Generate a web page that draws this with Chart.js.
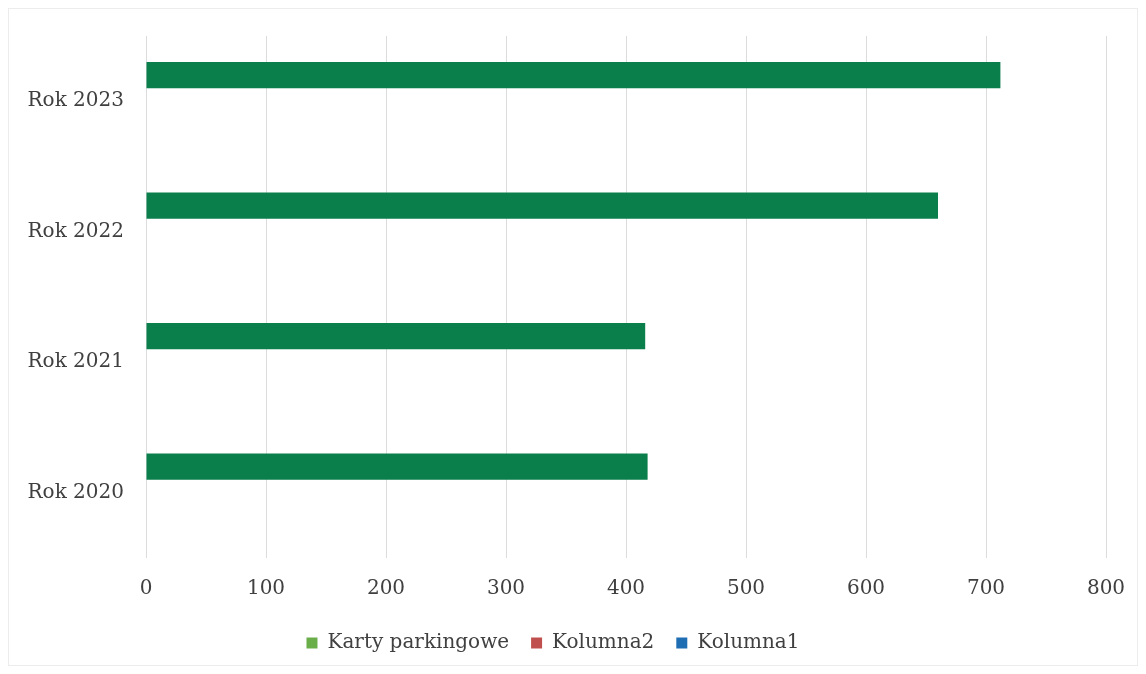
<!DOCTYPE html>
<html>
<head>
<meta charset="utf-8">
<script src="https://cdn.jsdelivr.net/npm/chart.js@4/dist/chart.umd.min.js"></script>
<style>
  html, body { margin: 0; padding: 0; background: #fff; }
  #wrap { position: relative; width: 1146px; height: 674px; }
  #frame { position: absolute; left: 8px; top: 8px; width: 1130px; height: 658px; border: 1px solid #ececec; box-sizing: border-box; }
</style>
</head>
<body>
<div id="wrap">
  <div id="frame"></div>
  <canvas id="chart" width="1146" height="674"></canvas>
</div>
<script>
// kategorie (od góry do dołu) i serie
const categories = ['Rok 2023', 'Rok 2022', 'Rok 2021', 'Rok 2020'];
const kartyParkingowe = [712, 660, 416, 418];
const kolumna2 = [null, null, null, null];
const kolumna1 = [null, null, null, null];
const xTicks = [0, 100, 200, 300, 400, 500, 600, 700, 800];

const fontFamily = '"DejaVu Serif", "Liberation Serif", serif';
const textColor = '#404040';

new Chart(document.getElementById('chart'), {
    type: 'bar',
    data: {
        labels: categories,
        datasets: [
            { label: 'Karty parkingowe', data: kartyParkingowe, backgroundColor: '#0a7e4b', legendColor: '#6aae4a' },
            { label: 'Kolumna2', data: kolumna2, backgroundColor: '#c0504d' },
            { label: 'Kolumna1', data: kolumna1, backgroundColor: '#1f6db3' }
        ]
    },
    options: {
        indexAxis: 'y',
        responsive: false,
        animation: false,
        layout: { padding: { top: 36, right: 40, bottom: 11, left: 0 } },
        datasets: { bar: { categoryPercentage: 0.6, barPercentage: 1.0 } },
        plugins: {
            tooltip: { enabled: false },
            legend: {
                position: 'bottom',
                labels: {
                    font: { family: fontFamily, size: 20 },
                    color: textColor,
                    boxWidth: 11,
                    boxHeight: 11,
                    padding: 22,
                    generateLabels(chart) {
                        return chart.data.datasets.map((ds, i) => ({
                            text: ds.label,
                            fillStyle: ds.legendColor || ds.backgroundColor,
                            strokeStyle: ds.legendColor || ds.backgroundColor,
                            lineWidth: 0,
                            fontColor: textColor,
                            datasetIndex: i
                        }));
                    }
                }
            }
        },
        scales: {
            x: {
                min: 0,
                max: 800,
                afterBuildTicks(scale) { scale.ticks = xTicks.map(v => ({ value: v })); },
                afterFit(scale) { scale.height = 53; },
                border: { display: false },
                grid: { color: '#dcdcdc', lineWidth: 1, drawTicks: false },
                ticks: { font: { family: fontFamily, size: 20 }, color: textColor, padding: 19 }
            },
            y: {
                afterFit(scale) { scale.width = 146; },
                border: { display: false },
                grid: { display: false, drawTicks: false },
                ticks: { font: { family: fontFamily, size: 20 }, color: textColor, padding: 22 }
            }
        }
    }
});
</script>
</body>
</html>
